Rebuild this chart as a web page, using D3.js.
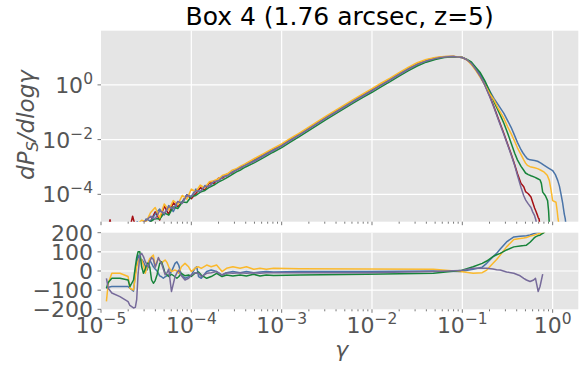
<!DOCTYPE html>
<html>
<head>
<meta charset="utf-8">
<script src="https://cdn.jsdelivr.net/npm/d3@7"></script>
<style>
  body { margin: 0; background: #fff; }
  text { font-family: "DejaVu Sans", sans-serif; }
</style>
</head>
<body>
<svg id="chart" width="587" height="370"></svg>
<script>
// ---- data: log10(gamma) grid and log10(dP_S/dlog gamma) per simulation ----
const lgBody = [-5.00,-4.95,-4.90,-4.85,-4.80,-4.75,-4.70,-4.65,-4.60,-4.55,-4.50,-4.45,-4.40,-4.35,-4.30,-4.25,-4.20,-4.15,-4.10,-4.05,-4.00,-3.95,-3.90,-3.85,-3.80,-3.75,-3.70,-3.65,-3.60,-3.55,-3.50,-3.45,-3.40,
  -3.3,-3.2,-3.1,-3.0,-2.9,-2.8,-2.7,-2.6,-2.5,-2.4,-2.3,-2.2,-2.1,-2.0,-1.9,-1.8,-1.7,-1.6,-1.5,-1.4,-1.3,-1.2,-1.1];

const bodyRed = [-6.2,-5.7,-4.93,-5.8,-5.9,-5.6,-5.5,-4.8,-5.4,-5.3,-5.2,-4.98,-4.64,-4.94,-4.43,-4.73,-4.31,-4.45,-4.28,-4.02,-4.16,-3.97,-3.76,-3.84,-3.58,-3.6,-3.41,-3.4,-3.25,-3.22,-3.08,-3.03,-2.9,
  -2.72,-2.55,-2.37,-2.19,-1.98,-1.78,-1.58,-1.37,-1.16,-0.96,-0.76,-0.56,-0.37,-0.18,0.02,0.21,0.41,0.6,0.77,0.9,0.98,1.03,1.04];
const bodyYellow = [-6.0,-5.9,-5.7,-5.5,-5.6,-5.3,-5.4,-5.2,-5.1,-4.95,-5.0,-4.66,-4.48,-4.86,-4.35,-4.57,-4.23,-4.37,-4.04,-4.18,-3.81,-3.9,-3.66,-3.76,-3.54,-3.5,-3.43,-3.3,-3.25,-3.12,-3.06,-2.96,-2.88,
  -2.69,-2.51,-2.33,-2.16,-1.95,-1.75,-1.54,-1.33,-1.12,-0.92,-0.72,-0.52,-0.33,-0.14,0.06,0.25,0.45,0.64,0.81,0.93,1.0,1.04,1.045];
const bodyBlue = [-6.1,-5.8,-5.9,-5.6,-5.5,-5.7,-5.3,-5.4,-5.0,-5.2,-4.9,-4.98,-4.72,-4.54,-4.75,-4.41,-4.63,-4.3,-4.28,-4.02,-4.08,-3.81,-3.92,-3.68,-3.7,-3.52,-3.5,-3.35,-3.3,-3.18,-3.1,-3.0,-2.92,
  -2.76,-2.57,-2.39,-2.21,-2.0,-1.8,-1.59,-1.38,-1.17,-0.97,-0.77,-0.57,-0.38,-0.19,0.01,0.2,0.4,0.59,0.76,0.89,0.975,1.03,1.04];
const bodyGreen = [-6.3,-6.0,-6.1,-5.8,-5.7,-5.7,-5.5,-5.45,-5.3,-5.2,-5.15,-5.0,-4.88,-4.9,-4.68,-4.76,-4.46,-4.52,-4.28,-4.3,-4.08,-4.04,-3.92,-3.86,-3.74,-3.66,-3.55,-3.47,-3.38,-3.28,-3.18,-3.1,-3.0,
  -2.84,-2.66,-2.47,-2.29,-2.08,-1.88,-1.67,-1.46,-1.25,-1.05,-0.85,-0.65,-0.46,-0.27,-0.07,0.12,0.32,0.51,0.69,0.83,0.93,1.0,1.03];
const bodyPurple = [-6.0,-5.85,-5.75,-5.8,-5.5,-5.45,-5.35,-5.35,-5.15,-5.05,-4.95,-4.8,-4.9,-4.6,-4.7,-4.45,-4.52,-4.26,-4.33,-4.04,-4.09,-3.87,-3.9,-3.7,-3.71,-3.53,-3.52,-3.36,-3.33,-3.2,-3.12,-3.02,-2.94,
  -2.79,-2.6,-2.42,-2.24,-2.03,-1.83,-1.62,-1.41,-1.2,-1.0,-0.8,-0.6,-0.41,-0.22,-0.02,0.17,0.37,0.56,0.74,0.87,0.96,1.02,1.035];

// high-gamma tails, each on its own grid
const lgTailRed = [-1.0,-0.95,-0.9,-0.85,-0.8,-0.75,-0.7,-0.65,-0.6,-0.54,-0.5,-0.46,-0.42,-0.39,-0.35,-0.32,-0.3,-0.27,-0.24,-0.22,-0.2,-0.185,-0.17,-0.16,-0.15,-0.14];
const tailRed = [1.0,0.92,0.78,0.56,0.31,0.0,-0.38,-0.80,-1.25,-1.78,-2.15,-2.52,-2.92,-3.24,-3.6,-3.72,-3.9,-3.98,-4.1,-4.3,-4.5,-4.62,-4.75,-4.85,-4.9,-5.2];
const lgTailPurple = [-1.0,-0.95,-0.9,-0.85,-0.8,-0.75,-0.7,-0.65,-0.6,-0.54,-0.5,-0.46,-0.42,-0.39,-0.35,-0.32,-0.3,-0.27,-0.24,-0.22,-0.2,-0.185,-0.175];
const tailPurple = [1.0,0.92,0.78,0.56,0.30,-0.02,-0.41,-0.83,-1.28,-1.81,-2.18,-2.55,-2.95,-3.3,-3.75,-4.05,-4.2,-4.35,-4.48,-4.65,-4.78,-4.95,-5.2];
const lgTailGreen = [-1.0,-0.95,-0.9,-0.85,-0.8,-0.75,-0.7,-0.65,-0.6,-0.54,-0.5,-0.46,-0.42,-0.39,-0.35,-0.32,-0.3,-0.27,-0.24,-0.2,-0.17,-0.14,-0.125,-0.11,-0.08,-0.056,-0.045,-0.035];
const tailGreen = [1.0,0.93,0.84,0.64,0.44,0.15,-0.22,-0.61,-0.96,-1.4,-1.75,-2.12,-2.5,-2.74,-2.98,-3.12,-3.22,-3.28,-3.32,-3.37,-3.42,-3.47,-3.6,-3.92,-4.05,-4.23,-4.6,-5.2];
const lgTailYellow = [-1.0,-0.95,-0.9,-0.85,-0.8,-0.75,-0.7,-0.65,-0.6,-0.54,-0.5,-0.46,-0.42,-0.39,-0.35,-0.32,-0.3,-0.28,-0.25,-0.2,-0.167,-0.13,-0.093,-0.06,-0.037,-0.02,0.0,0.037,0.05,0.06,0.075];
const tailYellow = [1.0,0.92,0.74,0.52,0.27,0.0,-0.3,-0.55,-0.88,-1.22,-1.52,-1.78,-2.07,-2.3,-2.55,-2.74,-2.86,-2.94,-2.99,-3.03,-3.06,-3.12,-3.19,-3.3,-3.49,-3.8,-4.23,-4.29,-4.6,-4.9,-5.2];
const lgTailBlue = [-1.0,-0.95,-0.9,-0.85,-0.8,-0.75,-0.7,-0.65,-0.6,-0.54,-0.5,-0.46,-0.43,-0.39,-0.35,-0.33,-0.3,-0.28,-0.25,-0.2,-0.167,-0.13,-0.093,-0.05,0.0,0.03,0.056,0.075,0.092,0.11,0.129,0.14,0.15];
const tailBlue = [1.0,0.93,0.8,0.6,0.38,0.1,-0.2,-0.49,-0.74,-1.04,-1.3,-1.55,-1.78,-2.1,-2.37,-2.48,-2.62,-2.70,-2.74,-2.76,-2.79,-2.86,-2.94,-3.03,-3.13,-3.28,-3.49,-3.7,-3.98,-4.3,-4.72,-4.9,-5.2];

// relative difference (%) panel
const lgRatio = [-4.94,-4.92,-4.88,-4.79,-4.70,-4.68,-4.64,-4.62,-4.605,-4.59,-4.57,-4.55,-4.53,-4.51,-4.49,-4.475,-4.46,-4.44,-4.42,-4.40,-4.38,-4.365,-4.35,-4.33,-4.31,-4.29,-4.27,-4.25,-4.22,-4.18,-4.16,-4.14,-4.11,-4.07,-4.03,-4.0,-3.96,-3.94,-3.92,-3.89,-3.83,-3.78,-3.72,-3.66,-3.61,-3.54,-3.46,-3.39,-3.31,-3.24,-3.17,-3.09,-2.8,
  -2.06,-1.32,-1.02,-0.88,-0.78,-0.73,-0.66,-0.62,-0.58,-0.51,-0.43,-0.36,-0.32,-0.29,-0.25,-0.21,-0.19,-0.16,-0.14,-0.11,-0.1,-0.07];
const ratioBlue = [-90,-85,-81,-81,-81,-90,-105,-12,40,83,57,60,48,25,5,30,57,40,22,10,0,-12,-25,-30,-38,-30,-25,-21,-3,40,48,31,-21,-38,-29,-21,14,22,-29,-38,-3,5,-3,-21,-9,-3,-9,-3,-9,-5,-3,-5,-3,
  -3,0,-3,9,20,40,75,92,115,152,178,182,183,184,188,195,198,202,204,210,212,225];
const ratioYellow = [-159,-64,-12,-12,-29,-90,-99,-29,22,48,70,57,30,-12,20,48,65,74,83,22,50,66,55,40,50,57,45,22,-3,5,0,-12,22,40,22,-3,14,20,22,14,31,22,31,-3,14,22,14,22,9,14,9,14,12,
  10,9,-3,-12,-9,5,40,60,83,126,164,170,172,175,182,187,190,194,196,199,201,215];
const ratioGreen = [-90,-60,-38,-38,-47,-81,-47,22,70,100,100,22,-12,10,40,40,20,-47,-64,-50,-21,10,40,48,20,-12,-20,-29,-17,-30,-38,-30,-12,-25,-21,-29,-12,-10,-5,-21,-38,-29,-12,-29,-21,-26,-21,-26,-17,-26,-21,-24,-21,
  -17,-12,2,22,40,52,75,85,92,110,126,131,133,135,150,170,178,185,187,196,199,212];
const ratioPurple = [-38,-90,-115,-134,-160,-180,-193,-190,-150,-20,80,92,75,50,30,20,50,70,60,20,45,70,55,40,10,-20,-10,10,-107,-29,-10,5,-25,-47,-38,-21,-9,-10,-12,-29,-12,-9,-3,-21,-9,-12,-9,-12,-9,-12,-9,-9,-9,
  -9,-3,2,14,14,14,10,7,5,-5,-12,-25,-38,-47,-55,-47,-38,-107,-81,-16,null,null];

// axis ticks
const xTickExp = [-5,-4,-3,-2,-1,0];
const yTickExp = [-4,-2,0];
const ratioTicks = [-200,-100,0,100,200];
const titleText = "Box 4 (1.76 arcsec, z=5)";

const colors = { red: "#a50f15", blue: "#4a74a8", yellow: "#fbb92c", green: "#17843a", purple: "#766a9a" };

// ---- layout ----
const left = 101, right = 578.3;
const topT = 30.7, topB = 221.7, botT = 232.7, botB = 309.3;
const tickColor = "#555555", labelColor = "#555555", bg = "#e5e5e5";

const svg = d3.select("#chart");
const x = d3.scaleLog().domain([1e-5, Math.pow(10, 0.284)]).range([left, right]);
const yTop = d3.scaleLog().domain([1e-5, Math.pow(10, 1.98)]).range([topB, topT]);
const yBot = d3.scaleLinear().domain([-200, 200]).range([botB, botT]);

const defs = svg.append("defs");
defs.append("clipPath").attr("id", "clipTop").append("rect")
  .attr("x", left).attr("y", topT).attr("width", right - left).attr("height", topB - topT);
defs.append("clipPath").attr("id", "clipBot").append("rect")
  .attr("x", left).attr("y", botT).attr("width", right - left).attr("height", botB - botT);

// panel backgrounds
svg.append("rect").attr("x", left).attr("y", topT).attr("width", right - left).attr("height", topB - topT).attr("fill", bg);
svg.append("rect").attr("x", left).attr("y", botT).attr("width", right - left).attr("height", botB - botT).attr("fill", bg);

// grid lines
const grid = svg.append("g").attr("stroke", "#ffffff").attr("stroke-width", 1.2);
xTickExp.slice(1).forEach(e => {
  const px = x(Math.pow(10, e));
  grid.append("line").attr("x1", px).attr("x2", px).attr("y1", topT).attr("y2", topB);
  grid.append("line").attr("x1", px).attr("x2", px).attr("y1", botT).attr("y2", botB);
});
yTickExp.forEach(e => {
  const py = yTop(Math.pow(10, e));
  grid.append("line").attr("x1", left).attr("x2", right).attr("y1", py).attr("y2", py);
});
ratioTicks.slice(1, -1).forEach(v => {
  const py = yBot(v);
  grid.append("line").attr("x1", left).attr("x2", right).attr("y1", py).attr("y2", py);
});

// tick marks
const ticks = svg.append("g").attr("stroke", tickColor).attr("stroke-width", 0.8);
const minor = [];
xTickExp.forEach(e => { for (let m = 2; m <= 9; m++) { const v = m * Math.pow(10, e); if (v <= x.domain()[1]) minor.push(v); } });
[topB, botB].forEach(base => {
  xTickExp.forEach(e => {
    const px = x(Math.pow(10, e));
    ticks.append("line").attr("x1", px).attr("x2", px).attr("y1", base).attr("y2", base + 3.5);
  });
  minor.forEach(v => {
    const px = x(v);
    ticks.append("line").attr("x1", px).attr("x2", px).attr("y1", base).attr("y2", base + 2);
  });
});
yTickExp.forEach(e => {
  const py = yTop(Math.pow(10, e));
  ticks.append("line").attr("x1", left - 3.5).attr("x2", left).attr("y1", py).attr("y2", py);
});
ratioTicks.forEach(v => {
  const py = yBot(v);
  ticks.append("line").attr("x1", left - 3.5).attr("x2", left).attr("y1", py).attr("y2", py);
});

// power-of-ten label with a raised exponent
function powLabel(g, px, py, e, anchor) {
  const t = g.append("text").attr("x", px).attr("y", py).attr("text-anchor", anchor)
    .attr("font-size", 22).attr("fill", labelColor);
  t.append("tspan").text("10");
  t.append("tspan").attr("dy", -9).attr("font-size", 15.5).text(e < 0 ? "\u2212" + (-e) : String(e));
  return t;
}

const labels = svg.append("g");
yTickExp.forEach(e => powLabel(labels, 93, yTop(Math.pow(10, e)) + 8, e, "end"));
xTickExp.forEach(e => powLabel(labels, x(Math.pow(10, e)), 333, e, "middle"));
ratioTicks.forEach(v => {
  labels.append("text").attr("x", 93).attr("y", yBot(v) + 8).attr("text-anchor", "end")
    .attr("font-size", 22).attr("fill", labelColor)
    .text(v < 0 ? "\u2212" + (-v) : String(v));
});

// ---- curves ----
const lineTop = d3.line()
  .defined(d => d[1] != null)
  .x(d => x(Math.pow(10, d[0])))
  .y(d => yTop(Math.pow(10, d[1])));
const lineBot = d3.line()
  .defined(d => d[1] != null)
  .x(d => x(Math.pow(10, d[0])))
  .y(d => yBot(d[1]));

const zipPts = (xs, ys) => xs.map((v, i) => [v, ys[i]]);

const topSeries = [
  { c: colors.red,    pts: zipPts(lgBody, bodyRed).concat(zipPts(lgTailRed, tailRed)) },
  { c: colors.blue,   pts: zipPts(lgBody, bodyBlue).concat(zipPts(lgTailBlue, tailBlue)) },
  { c: colors.green,  pts: zipPts(lgBody, bodyGreen).concat(zipPts(lgTailGreen, tailGreen)) },
  { c: colors.yellow, pts: zipPts(lgBody, bodyYellow).concat(zipPts(lgTailYellow, tailYellow)) },
  { c: colors.purple, pts: zipPts(lgBody, bodyPurple).concat(zipPts(lgTailPurple, tailPurple)) }
];
svg.append("g").attr("clip-path", "url(#clipTop)")
  .selectAll("path").data(topSeries).join("path")
  .attr("d", d => lineTop(d.pts))
  .attr("fill", "none").attr("stroke", d => d.c).attr("stroke-width", 1.5)
  .attr("stroke-linejoin", "round");

const botSeries = [
  { c: colors.blue,   pts: zipPts(lgRatio, ratioBlue) },
  { c: colors.yellow, pts: zipPts(lgRatio, ratioYellow) },
  { c: colors.green,  pts: zipPts(lgRatio, ratioGreen) },
  { c: colors.purple, pts: zipPts(lgRatio, ratioPurple) }
];
svg.append("g").attr("clip-path", "url(#clipBot)")
  .selectAll("path").data(botSeries).join("path")
  .attr("d", d => lineBot(d.pts))
  .attr("fill", "none").attr("stroke", d => d.c).attr("stroke-width", 1.5)
  .attr("stroke-linejoin", "round");

// ---- title and axis labels ----
svg.append("text").attr("x", (left + right) / 2).attr("y", 24.5).attr("text-anchor", "middle")
  .attr("font-size", 25).attr("fill", "#000").text(titleText);

svg.append("text").attr("x", (left + right) / 2 + 2).attr("y", 357).attr("text-anchor", "middle")
  .attr("font-size", 22).attr("font-style", "italic").attr("fill", labelColor).text("\u03b3");

const yl = svg.append("text").attr("transform", "translate(34,125) rotate(-90)")
  .attr("text-anchor", "middle").attr("font-size", 22).attr("font-style", "italic").attr("fill", labelColor);
yl.append("tspan").text("dP");
yl.append("tspan").attr("dy", 4).attr("font-size", 15.5).text("S");
yl.append("tspan").attr("dy", -4).text("/dlog\u03b3");
// keep the rotated label at its 110px span
const ylLen = yl.node().getComputedTextLength();
if (ylLen > 0) {
  const fs = 22 * 110 / ylLen;
  yl.attr("font-size", fs);
  yl.selectAll("tspan").filter((d, i) => i === 1).attr("font-size", fs * 0.7);
}
</script>
</body>
</html>
